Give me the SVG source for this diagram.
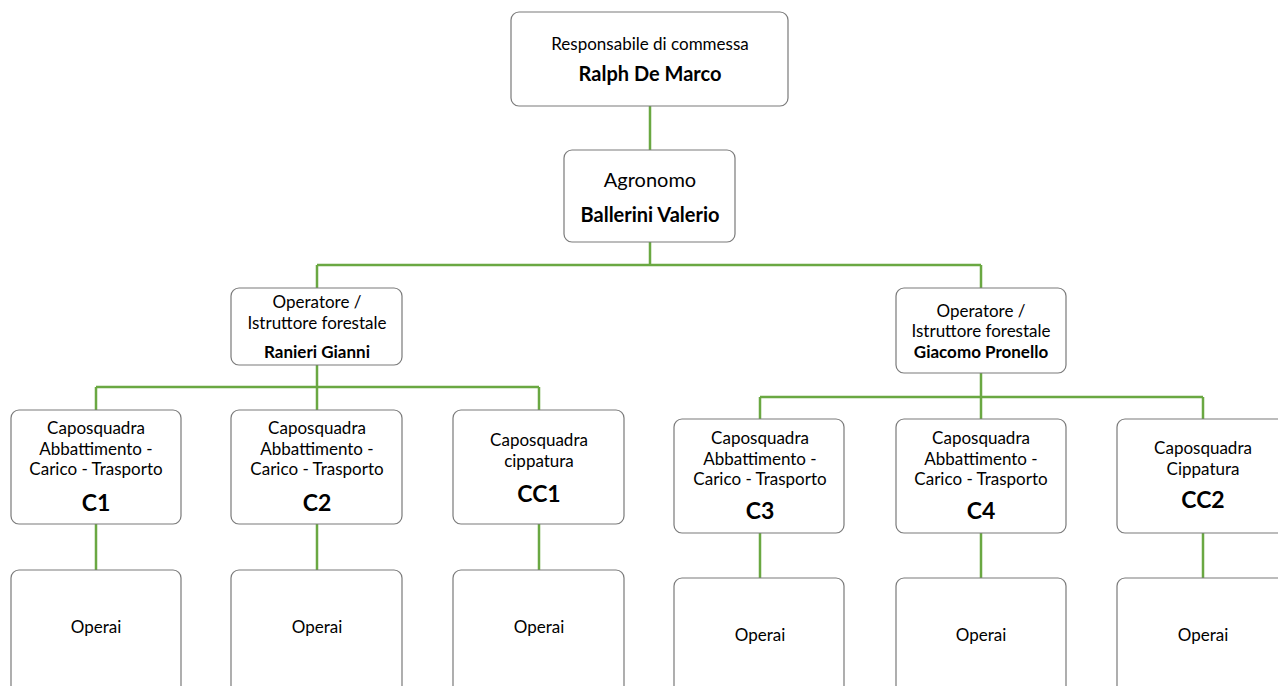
<svg xmlns="http://www.w3.org/2000/svg" width="1278" height="686" viewBox="0 0 1278 686">
<style>
.box{fill:#fff;stroke:#7a7a7a;stroke-width:1.2}
.t{font-family:Lato,"Liberation Sans",sans-serif;font-size:17px;fill:#000;text-anchor:middle}
.b{font-weight:bold}
.n{font-size:20px}
.big{font-size:23px;font-weight:bold}
.con{fill:none;stroke:#6aa842;stroke-width:2.5}
</style>
<rect width="1278" height="686" fill="#fff"/>
<g id="connectors">
<path class="con" d="M650 106V150M650 242V265M317 265H981M317 265V288M981 265V288"/>
<path class="con" d="M317 365V387M96 387H539M96 387V410M317 387V410M539 387V410"/>
<path class="con" d="M981 373V397M760 397H1203M760 397V419M981 397V419M1203 397V419"/>
<path class="con" d="M96 524V570M317 524V570M539 524V570M760 533V578M981 533V578M1203 533V578"/>
</g>
<g id="resp"><rect class="box" x="511" y="12" width="277" height="94" rx="8"/>
<text class="t" x="650" y="50">Responsabile di commessa</text>
<text class="t b n" x="650" y="81">Ralph De Marco</text></g>
<g id="agronomo"><rect class="box" x="564" y="150" width="171" height="92" rx="8"/>
<text class="t n" x="650" y="187">Agronomo</text>
<text class="t b n" x="650" y="222">Ballerini Valerio</text></g>
<g id="op1"><rect class="box" x="231" y="288" width="171" height="77" rx="8"/>
<text class="t" x="317" y="308">Operatore /</text>
<text class="t" x="317" y="329">Istruttore forestale</text>
<text class="t b" x="317" y="358">Ranieri Gianni</text></g>
<g id="op2"><rect class="box" x="896" y="288" width="170" height="85" rx="8"/>
<text class="t" x="981" y="317">Operatore /</text>
<text class="t" x="981" y="337">Istruttore forestale</text>
<text class="t b" x="981" y="358">Giacomo Pronello</text></g>
<g id="c1"><rect class="box" x="11" y="410" width="170" height="114" rx="8"/>
<text class="t" x="96" y="434">Caposquadra</text>
<text class="t" x="96" y="455">Abbattimento -</text>
<text class="t" x="96" y="475">Carico - Trasporto</text>
<text class="t big" x="96" y="511">C1</text></g>
<g id="c2"><rect class="box" x="231" y="410" width="171" height="114" rx="8"/>
<text class="t" x="317" y="434">Caposquadra</text>
<text class="t" x="317" y="455">Abbattimento -</text>
<text class="t" x="317" y="475">Carico - Trasporto</text>
<text class="t big" x="317" y="511">C2</text></g>
<g id="cc1"><rect class="box" x="453" y="410" width="171" height="114" rx="8"/>
<text class="t" x="539" y="446">Caposquadra</text>
<text class="t" x="539" y="467">cippatura</text>
<text class="t big" x="539" y="502">CC1</text></g>
<g id="c3"><rect class="box" x="674" y="419" width="170" height="114" rx="8"/>
<text class="t" x="760" y="444">Caposquadra</text>
<text class="t" x="760" y="465">Abbattimento -</text>
<text class="t" x="760" y="485">Carico - Trasporto</text>
<text class="t big" x="760" y="519">C3</text></g>
<g id="c4"><rect class="box" x="896" y="419" width="170" height="114" rx="8"/>
<text class="t" x="981" y="444">Caposquadra</text>
<text class="t" x="981" y="465">Abbattimento -</text>
<text class="t" x="981" y="485">Carico - Trasporto</text>
<text class="t big" x="981" y="519">C4</text></g>
<g id="cc2"><rect class="box" x="1117" y="419" width="175" height="114" rx="8"/>
<text class="t" x="1203" y="454">Caposquadra</text>
<text class="t" x="1203" y="475">Cippatura</text>
<text class="t big" x="1203" y="508">CC2</text></g>
<g id="op-c1"><rect class="box" x="11" y="570" width="170" height="125" rx="8"/><text class="t" x="96" y="633">Operai</text></g>
<g id="op-c2"><rect class="box" x="231" y="570" width="171" height="125" rx="8"/><text class="t" x="317" y="633">Operai</text></g>
<g id="op-cc1"><rect class="box" x="453" y="570" width="171" height="125" rx="8"/><text class="t" x="539" y="633">Operai</text></g>
<g id="op-c3"><rect class="box" x="674" y="578" width="170" height="125" rx="8"/><text class="t" x="760" y="641">Operai</text></g>
<g id="op-c4"><rect class="box" x="896" y="578" width="170" height="125" rx="8"/><text class="t" x="981" y="641">Operai</text></g>
<g id="op-cc2"><rect class="box" x="1117" y="578" width="175" height="125" rx="8"/><text class="t" x="1203" y="641">Operai</text></g>
</svg>
